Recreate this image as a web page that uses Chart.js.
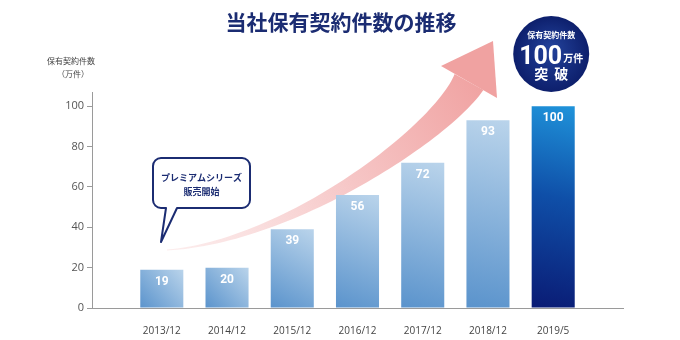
<!DOCTYPE html>
<html lang="ja">
<head>
<meta charset="utf-8">
<title>当社保有契約件数の推移</title>
<style>
  html, body { margin: 0; padding: 0; background: #fff; }
  #chart-container { width: 680px; height: 340px; }
</style>
</head>
<body>
<div id="chart-container"><canvas id="myChart" width="680" height="340"></canvas></div>
<script src="https://cdn.jsdelivr.net/npm/chart.js@4/dist/chart.umd.min.js"></script>
<script>
'use strict';

// data
const categories = ['2013/12', '2014/12', '2015/12', '2016/12', '2017/12', '2018/12', '2019/5'];
const contractCounts = [19, 20, 39, 56, 72, 93, 100];
const yTicks = [0, 20, 40, 60, 80, 100];
const titleText = '当社保有契約件数の推移';
const axisLabel = ['保有契約件数', '（万件）'];
const calloutLines = ['プレミアムシリーズ', '販売開始'];
const badgeTop = '保有契約件数';
const badgeNumber = '100';
const badgeUnit = '万件';
const badgeBottom = ['突', '破'];

const JP = '"Noto Sans CJK JP", "Noto Sans", sans-serif';
const NUM = '"Open Sans", "Noto Sans CJK JP", sans-serif';
const NAVY = '#1b2c72';

const chartCanvas = document.getElementById('myChart');

function barFill(context) {
    const chart = context.chart;
    if (!chart.chartArea || !context.parsed) {
        return '#7aa8d8';
    }
    const x = chart.scales.x;
    const y = chart.scales.y;
    const cx = x.getPixelForValue(context.parsed.x);
    const top = y.getPixelForValue(context.parsed.y);
    const bottom = y.getPixelForValue(0);
    const g = chart.ctx.createLinearGradient(cx + 22, top, cx - 22, bottom);
    if (context.dataIndex === contractCounts.length - 1) {
        g.addColorStop(0, '#1f93da');
        g.addColorStop(0.45, '#0f4fa8');
        g.addColorStop(1, '#0a1b74');
    } else {
        g.addColorStop(0, '#bad4eb');
        g.addColorStop(1, '#5a93cc');
    }
    return g;
}

// curved arrow, callout and badge drawn over the chart
const decorations = {
    id: 'decorations',
    beforeDatasetsDraw(chart) {
        const ctx = chart.ctx;
        ctx.save();
        // arrow shaft along a cubic curve
        const p0 = [167, 250], p1 = [287, 242], p2 = [440, 134], p3 = [469, 82];
        const steps = 60;
        const left = [];
        const right = [];
        for (let i = 0; i <= steps; i++) {
            const t = i / steps;
            const u = 1 - t;
            const px = u * u * u * p0[0] + 3 * u * u * t * p1[0] + 3 * u * t * t * p2[0] + t * t * t * p3[0];
            const py = u * u * u * p0[1] + 3 * u * u * t * p1[1] + 3 * u * t * t * p2[1] + t * t * t * p3[1];
            const dx = 3 * u * u * (p1[0] - p0[0]) + 6 * u * t * (p2[0] - p1[0]) + 3 * t * t * (p3[0] - p2[0]);
            const dy = 3 * u * u * (p1[1] - p0[1]) + 6 * u * t * (p2[1] - p1[1]) + 3 * t * t * (p3[1] - p2[1]);
            const len = Math.hypot(dx, dy);
            const nx = -dy / len;
            const ny = dx / len;
            const w = (1 + 32 * Math.pow(t, 1.3)) / 2;
            left.push([px + nx * w, py + ny * w]);
            right.push([px - nx * w, py - ny * w]);
        }
        const grad = ctx.createLinearGradient(167, 250, 492, 43);
        grad.addColorStop(0, 'rgba(250, 225, 225, 0.6)');
        grad.addColorStop(0.5, '#f6c6c6');
        grad.addColorStop(1, '#ef9c9b');
        ctx.fillStyle = grad;
        ctx.beginPath();
        ctx.moveTo(left[0][0], left[0][1]);
        left.forEach(p => ctx.lineTo(p[0], p[1]));
        right.reverse().forEach(p => ctx.lineTo(p[0], p[1]));
        ctx.closePath();
        ctx.fill();
        // arrow head
        ctx.fillStyle = '#f0a2a1';
        ctx.beginPath();
        ctx.moveTo(441, 66);
        ctx.lineTo(493, 41);
        ctx.lineTo(497, 98);
        ctx.closePath();
        ctx.fill();
        ctx.restore();
    },
    afterDatasetsDraw(chart) {
        const ctx = chart.ctx;
        const meta = chart.getDatasetMeta(0);
        ctx.save();

        // value labels inside the bars
        ctx.fillStyle = '#ffffff';
        ctx.font = 'bold 12px Roboto, ' + NUM;
        ctx.textAlign = 'center';
        ctx.textBaseline = 'middle';
        meta.data.forEach((bar, i) => {
            ctx.fillText(String(contractCounts[i]), bar.x, bar.y + 12);
        });

        // title
        ctx.fillStyle = NAVY;
        ctx.font = 'bold 21px ' + JP;
        ctx.fillText(titleText, 341, 22);

        // y axis caption
        ctx.fillStyle = '#444444';
        ctx.font = '8px ' + JP;
        ctx.fillText(axisLabel[0], 71, 61);
        ctx.fillText(axisLabel[1], 73, 74);

        // callout bubble
        const bx = 153, by = 158, bw = 97, bh = 50, r = 8;
        ctx.beginPath();
        ctx.moveTo(bx + r, by);
        ctx.lineTo(bx + bw - r, by);
        ctx.arcTo(bx + bw, by, bx + bw, by + r, r);
        ctx.lineTo(bx + bw, by + bh - r);
        ctx.arcTo(bx + bw, by + bh, bx + bw - r, by + bh, r);
        ctx.lineTo(177, by + bh);
        ctx.lineTo(161, 242);
        ctx.lineTo(166, by + bh);
        ctx.lineTo(bx + r, by + bh);
        ctx.arcTo(bx, by + bh, bx, by + bh - r, r);
        ctx.lineTo(bx, by + r);
        ctx.arcTo(bx, by, bx + r, by, r);
        ctx.closePath();
        ctx.fillStyle = '#ffffff';
        ctx.fill();
        ctx.lineWidth = 2;
        ctx.lineJoin = 'round';
        ctx.strokeStyle = NAVY;
        ctx.stroke();
        ctx.fillStyle = NAVY;
        ctx.font = 'bold 9px ' + JP;
        ctx.fillText(calloutLines[0], bx + bw / 2, 178);
        ctx.fillText(calloutLines[1], bx + bw / 2, 192);

        // badge above the last bar
        const last = meta.data[meta.data.length - 1];
        const cx = last.x - 2, cy = 54, rad = 38;
        const rg = ctx.createRadialGradient(cx, cy - 6, 4, cx, cy, rad);
        rg.addColorStop(0, '#213f97');
        rg.addColorStop(1, '#0d1f6c');
        ctx.fillStyle = rg;
        ctx.beginPath();
        ctx.arc(cx, cy, rad, 0, Math.PI * 2);
        ctx.fill();
        ctx.fillStyle = '#ffffff';
        ctx.font = 'bold 8px ' + JP;
        ctx.fillText(badgeTop, cx, 35);
        ctx.font = 'bold 25px Roboto, ' + NUM;
        const numW = ctx.measureText(badgeNumber).width;
        ctx.font = 'bold 10px ' + JP;
        const unitW = ctx.measureText(badgeUnit).width;
        const startX = cx - (numW + unitW + 1) / 2;
        ctx.textAlign = 'left';
        ctx.textBaseline = 'alphabetic';
        ctx.font = 'bold 25px Roboto, ' + NUM;
        ctx.fillText(badgeNumber, startX, 64);
        ctx.font = 'bold 10px ' + JP;
        ctx.fillText(badgeUnit, startX + numW + 1, 62);
        ctx.textAlign = 'center';
        ctx.textBaseline = 'middle';
        ctx.font = 'bold 14px ' + JP;
        ctx.fillText(badgeBottom[0], cx - 10, 74);
        ctx.fillText(badgeBottom[1], cx + 10, 74);

        ctx.restore();
    }
};

new Chart(chartCanvas, {
    type: 'bar',
    data: {
        labels: categories,
        datasets: [{
            label: '保有契約件数',
            data: contractCounts.map((v, i) => ({ x: i, y: v })),
            backgroundColor: barFill,
            borderWidth: 0,
            barPercentage: 1,
            categoryPercentage: 0.66
        }]
    },
    options: {
        responsive: false,
        devicePixelRatio: 1,
        animation: false,
        layout: {
            padding: { top: 92, right: 57, bottom: 0, left: 0 }
        },
        plugins: {
            legend: { display: false },
            tooltip: { enabled: false }
        },
        scales: {
            x: {
                type: 'linear',
                min: -1.07,
                max: 7.07,
                offset: false,
                grid: { display: false },
                border: { display: true, color: '#9a9a9a', width: 1 },
                ticks: {
                    stepSize: 1,
                    padding: 9,
                    color: '#444444',
                    font: { family: NUM, size: 10 },
                    maxRotation: 0,
                    autoSkip: false,
                    callback: value => categories[value] ?? ''
                },
                afterBuildTicks: scale => {
                    scale.ticks = categories.map((c, i) => ({ value: i }));
                },
                afterFit: scale => {
                    scale.height = 32;
                }
            },
            y: {
                min: 0,
                max: 107,
                grid: {
                    drawOnChartArea: false,
                    drawTicks: true,
                    tickLength: 5,
                    color: '#9a9a9a'
                },
                border: { display: true, color: '#9a9a9a', width: 1 },
                ticks: {
                    padding: 3,
                    color: '#555555',
                    font: { family: NUM, size: 11 }
                },
                afterBuildTicks: scale => {
                    scale.ticks = yTicks.map(v => ({ value: v }));
                },
                afterFit: scale => {
                    scale.width = 92;
                }
            }
        }
    },
    plugins: [decorations]
});
</script>
</body>
</html>
